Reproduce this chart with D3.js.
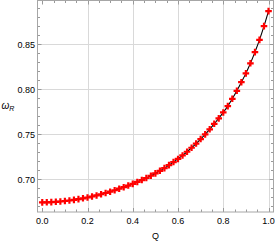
<!DOCTYPE html>
<html>
<head>
<meta charset="utf-8">
<script src="https://cdn.jsdelivr.net/npm/d3@7"></script>
<style>
  body { margin: 0; background: #fff; }
  text { font-family: "Liberation Sans", Arial, sans-serif; }
</style>
</head>
<body>
<div id="chart"></div>
<script>
// data
const qValues = d3.range(0, 51).map(i => i / 50);
const omegaR = [
  0.6744, 0.6745, 0.6747, 0.6750, 0.6754, 0.6759, 0.6765, 0.6772, 0.6780, 0.6789,
  0.6798, 0.6809, 0.6821, 0.6834, 0.6848, 0.6863, 0.6879, 0.6896, 0.6913, 0.6931,
  0.6950, 0.6971, 0.6992, 0.7015, 0.7040, 0.7066, 0.7095, 0.7125, 0.7158, 0.7192,
  0.7227, 0.7266, 0.7307, 0.7351, 0.7398, 0.7448, 0.7500, 0.7556, 0.7617, 0.7678,
  0.7744, 0.7814, 0.7895, 0.7984, 0.8080, 0.8178, 0.8290, 0.8414, 0.8550, 0.8703,
  0.8870
];
const xTicks = [0, 0.2, 0.4, 0.6, 0.8, 1.0];
const yTicks = [0.70, 0.75, 0.80, 0.85];

const width = 275, height = 243;
const frame = { left: 37.5, right: 273.5, top: 0.5, bottom: 212 };

const svg = d3.select("#chart").append("svg")
  .attr("width", width).attr("height", height);

const x = d3.scaleLinear().domain([-0.021, 1.022]).range([frame.left, frame.right]);
const y = d3.scaleLinear().domain([0.6637, 0.8988]).range([frame.bottom, frame.top]);

const pts = qValues.map((q, i) => ({ q, w: omegaR[i] }));

// grid
svg.append("g").selectAll("line.gx")
  .data(xTicks.filter(d => d > 0))
  .join("line")
  .attr("x1", d => Math.round(x(d)) + 0.5).attr("x2", d => Math.round(x(d)) + 0.5)
  .attr("y1", frame.top).attr("y2", frame.bottom)
  .attr("stroke", "#d9d9d9").attr("stroke-width", 1);
svg.append("g").selectAll("line.gy")
  .data(yTicks)
  .join("line")
  .attr("y1", d => Math.round(y(d)) + 0.5).attr("y2", d => Math.round(y(d)) + 0.5)
  .attr("x1", frame.left).attr("x2", frame.right)
  .attr("stroke", "#d9d9d9").attr("stroke-width", 1);

// ticks on all four sides, pointing in
const xMinor = d3.range(0, 21).map(i => i * 0.05);
const yMinor = d3.range(0, 24).map(i => 0.67 + i * 0.01).filter(v => v <= 0.895);
const isMajorX = v => Math.abs(v * 5 - Math.round(v * 5)) < 1e-6;
const isMajorY = v => Math.abs(v * 20 - Math.round(v * 20)) < 1e-6;
const tk = svg.append("g").attr("stroke", "#999").attr("stroke-width", 1);
xMinor.forEach(v => {
  const len = isMajorX(v) ? 4 : 2.5;
  const px = Math.round(x(v)) + 0.5;
  tk.append("line").attr("x1", px).attr("x2", px).attr("y1", frame.bottom).attr("y2", frame.bottom - len);
  tk.append("line").attr("x1", px).attr("x2", px).attr("y1", frame.top).attr("y2", frame.top + len);
});
yMinor.forEach(v => {
  const len = isMajorY(v) ? 4 : 2.5;
  const py = Math.round(y(v)) + 0.5;
  tk.append("line").attr("y1", py).attr("y2", py).attr("x1", frame.left).attr("x2", frame.left + len);
  tk.append("line").attr("y1", py).attr("y2", py).attr("x1", frame.right).attr("x2", frame.right - len);
});

// frame
svg.append("rect")
  .attr("x", frame.left).attr("y", frame.top)
  .attr("width", frame.right - frame.left).attr("height", frame.bottom - frame.top)
  .attr("fill", "none").attr("stroke", "#a6a6a6").attr("stroke-width", 1);

// tick labels
svg.append("g").selectAll("text")
  .data(xTicks)
  .join("text")
  .attr("x", d => x(d)).attr("y", 224)
  .attr("text-anchor", "middle")
  .attr("font-size", 9).attr("fill", "#000")
  .text(d => d3.format(".1f")(d));
svg.append("g").selectAll("text")
  .data(yTicks)
  .join("text")
  .attr("x", 35).attr("y", d => y(d) + 3.2)
  .attr("text-anchor", "end")
  .attr("font-size", 9).attr("fill", "#000")
  .text(d => d3.format(".2f")(d));

// axis labels
svg.append("text").attr("x", 155.5).attr("y", 238.5)
  .attr("text-anchor", "middle").attr("font-size", 9).attr("fill", "#000").text("Q");
const yl = svg.append("text").attr("x", 1.5).attr("y", 109)
  .attr("font-size", 10).attr("fill", "#000");
yl.append("tspan").attr("font-style", "italic").text("ω");
yl.append("tspan").attr("font-style", "italic").attr("font-size", 7).attr("dy", 2).text("R");

// line
svg.append("path")
  .datum(pts)
  .attr("fill", "none").attr("stroke", "#000").attr("stroke-width", 1.1)
  .attr("d", d3.line().x(d => x(d.q)).y(d => y(d.w)).curve(d3.curveMonotoneX));

// markers
svg.append("g").selectAll("path.pt")
  .data(pts)
  .join("path")
  .attr("class", "pt")
  .attr("transform", d => `translate(${x(d.q)},${y(d.w)})`)
  .attr("d", d3.symbol(d3.symbolCross, 24))
  .attr("fill", "#ff0000");
</script>
</body>
</html>
